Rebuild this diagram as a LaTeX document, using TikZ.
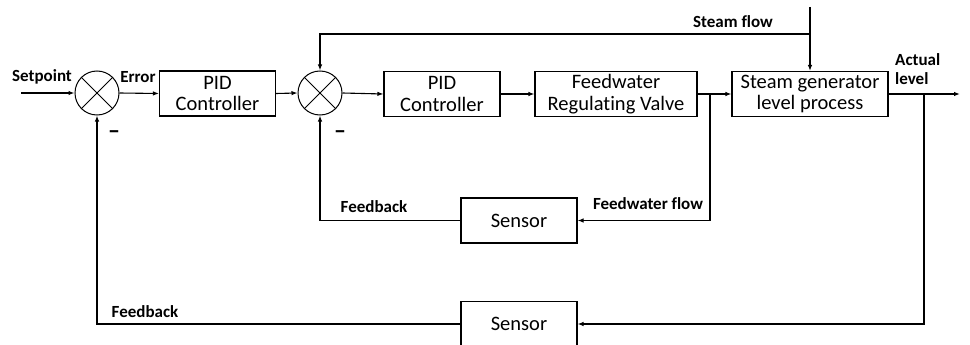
\documentclass[tikz,border=0pt]{standalone}
\usepackage{fontspec}
\setmainfont{Carlito}[Ligatures={NoCommon,NoContextual}]
\usetikzlibrary{arrows.meta}
\tikzset{
  x=1pt,y=-1pt,
  blk/.style={draw,line width=1.1pt,minimum width=116pt,minimum height=45pt,inner sep=0pt,align=center,font=\fontsize{20.5}{21.5}\selectfont},
  sumc/.style={draw,circle,line width=1pt,minimum size=44pt,inner sep=0pt},
  lbl/.style={font=\bfseries\fontsize{17}{19}\selectfont,inner sep=0pt},
  conn/.style={line width=1.1pt},
  arr/.style={conn,-{Latex[length=6pt,width=4.5pt]}},
  minus/.style={font=\bfseries\fontsize{24}{24}\selectfont,inner sep=0pt}
}
\begin{document}
\begin{tikzpicture}
\useasboundingbox (0,0) rectangle (970,345);
% blocks
\node[sumc] (s1) at (97,93) {};
\node[sumc] (s2) at (320,93) {};
\node[blk] (pid1) at (217.5,93.5) {PID\\Controller};
\node[blk] (pid2) at (442,94) {PID\\Controller};
\node[blk,minimum width=162pt] (frv) at (616,94) {Feedwater\\Regulating Valve};
\node[blk,minimum width=156pt] (sg) at (810,94) {Steam generator\\level process};
\node[blk] (sen1) at (519,220.5) {Sensor};
\node[blk] (sen2) at (519,324) {Sensor};
% crosses
\draw[line width=0.8pt] (s1.north west) -- (s1.south east) (s1.north east) -- (s1.south west);
\draw[line width=0.8pt] (s2.north west) -- (s2.south east) (s2.north east) -- (s2.south west);
% coordinates
\coordinate (in) at (21,93);
\coordinate (out) at (960,94);
\coordinate (tap1) at (710,94);
\coordinate (tap2) at (924,94);
\coordinate (stm) at (810,7);
\coordinate (stb) at (810,34);
% forward path
\draw[arr] (in) -- (s1.west);
\draw[arr] (s1.east) -- (pid1.west);
\draw[arr] (pid1.east) -- (s2.west);
\draw[arr] (s2.east) -- (pid2.west);
\draw[arr] (pid2.east) -- (frv.west);
\draw[arr] (frv.east) -- (sg.west);
\draw[arr] (sg.east) -- (out);
% steam flow
\draw[arr] (stm) -- (sg.north);
\draw[arr] (stb) -- (s2.north |- stb) -- (s2.north);
% inner feedback
\draw[arr] (tap1) -- (tap1 |- sen1.east) -- (sen1.east);
\draw[arr] (sen1.west) -- (s2.south |- sen1.west) -- (s2.south);
% outer feedback
\draw[arr] (tap2) -- (tap2 |- sen2.east) -- (sen2.east);
\draw[arr] (sen2.west) -- (s1.south |- sen2.west) -- (s1.south);
% labels
\node[lbl] (lsp) at (42,77) {Setpoint};
\node[lbl] (ler) at (138,77) {Error};
\node[lbl] (lst) at (733,22) {Steam flow};
\node[lbl,anchor=west,align=left] (lal) at (895,69) {Actual\\level};
\node[lbl] (lfb1) at (374,207) {Feedback};
\node[lbl] (lfw) at (648,204) {Feedwater flow};
\node[lbl] (lfb2) at (145,312) {Feedback};
\node[minus] (m1) at (114,135) {–};
\node[minus] (m2) at (340,135) {–};
\end{tikzpicture}
\end{document}
